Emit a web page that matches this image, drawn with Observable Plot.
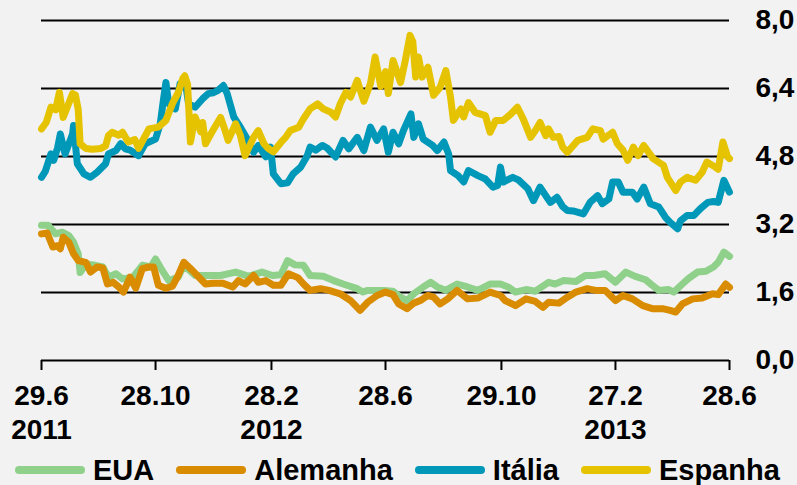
<!DOCTYPE html>
<html>
<head>
<meta charset="utf-8">
<script src="https://cdn.jsdelivr.net/npm/d3@7"></script>
<script src="https://cdn.jsdelivr.net/npm/@observablehq/plot@0.6"></script>
<style>
  html, body { margin: 0; padding: 0; background: #f2f2f2; }
  #chart { width: 797px; height: 485px; position: relative; overflow: hidden; font-family: "Liberation Sans", Arial, sans-serif; }
  #legend { position: absolute; left: 15px; top: 457px; height: 26px; display: flex; align-items: center; font-weight: bold; font-size: 29px; line-height: 26px; color: #000; }
  .item { display: flex; align-items: center; margin-right: 22px; }
  .sw { width: 70px; height: 8px; border-radius: 4px; margin-right: 8px; }
</style>
</head>
<body>
<div id="chart"></div>
<script>
// Series names and colours
const seriesNames = ["EUA", "Alemanha", "Itália", "Espanha"];
const seriesColors = ["#8fd18a", "#d98c00", "#0098b8", "#e6c300"];

// Day offsets from 29.6.2011 and 10-year yields (%)
const usDays = [0,7,15,22,29,34,39,41,47,57,65,71,79,86,97,107,116,121,128,135,145,151,163,177,190,206,220,234,245,254,261,269,278,285,299,310,320,335,341,346,363,373,381,388,395,405,413,420,429,441,452,463,476,487,495,503,514,524,538,545,554,567,577,586,598,609,620,630,641,648,655,665,671,680,686,696,705,713,718,724,730];
const usVals = [3.18,3.18,2.98,3.02,2.94,2.78,2.51,2.07,2.27,2.24,2.2,1.96,2.04,1.92,1.96,2.24,2.2,2.39,2.12,1.88,1.96,2.24,2.0,2.0,2.0,2.08,1.98,2.08,2.0,2.02,2.35,2.25,2.24,2.0,1.98,1.88,1.8,1.69,1.61,1.65,1.65,1.63,1.49,1.41,1.57,1.73,1.84,1.73,1.65,1.8,1.73,1.65,1.8,1.8,1.73,1.61,1.67,1.63,1.84,1.8,1.88,1.86,2.0,2.0,2.04,1.84,2.08,1.98,1.9,1.77,1.65,1.67,1.61,1.8,1.92,2.08,2.1,2.2,2.31,2.55,2.45];

const deDays = [0,6,12,17,20,23,29,34,39,47,52,59,65,70,76,82,87,94,100,107,114,119,124,132,139,145,151,160,167,174,182,192,203,209,216,225,230,238,246,254,262,272,278,285,296,305,317,328,338,346,356,365,373,379,388,395,402,410,416,423,431,441,452,463,476,487,492,503,514,524,532,538,549,558,567,579,588,598,609,617,627,638,648,659,667,673,680,691,701,712,718,726,730];
const deVals = [2.98,3.0,2.67,2.7,2.63,2.9,2.78,2.51,2.35,2.31,2.08,2.2,2.18,1.8,1.84,1.73,1.61,1.96,1.7,2.16,2.2,2.2,1.77,1.7,1.75,2.0,2.31,2.12,1.96,1.8,1.82,1.82,1.73,1.88,1.8,2.0,1.84,1.88,1.77,1.77,2.04,1.95,1.8,1.65,1.69,1.65,1.57,1.41,1.18,1.37,1.53,1.61,1.55,1.33,1.22,1.35,1.41,1.53,1.49,1.33,1.45,1.65,1.45,1.47,1.61,1.53,1.41,1.29,1.45,1.39,1.25,1.37,1.35,1.49,1.61,1.69,1.65,1.65,1.41,1.53,1.45,1.29,1.22,1.22,1.18,1.14,1.33,1.45,1.47,1.57,1.55,1.8,1.72];

const itDays = [0,4,10,13,17,20,25,33,34,38,45,52,59,68,71,79,84,89,94,100,103,110,121,126,129,132,135,142,147,153,156,163,171,177,182,187,193,197,204,211,219,225,230,238,243,246,254,261,267,275,282,285,291,298,303,312,320,326,335,342,349,356,363,368,373,379,384,392,395,400,405,415,420,427,432,434,442,448,453,463,471,479,484,487,490,500,506,516,522,529,535,540,547,553,558,564,575,582,590,595,602,606,612,617,627,632,639,646,655,662,667,675,678,685,692,699,707,713,718,724,730];
const itVals = [4.31,4.45,4.86,4.71,5.0,5.33,4.86,5.33,5.53,4.63,4.39,4.31,4.43,4.63,4.86,4.94,5.1,4.98,4.95,4.86,4.82,5.1,5.21,5.57,6.07,6.54,6.04,5.92,6.51,6.5,6.04,5.96,6.16,6.28,6.3,6.35,6.47,6.28,5.73,5.49,5.18,4.9,5.06,4.79,5.02,4.39,4.16,4.18,4.39,4.55,4.82,5.02,4.95,5.06,5.0,4.79,5.18,4.98,5.25,4.94,5.49,5.18,5.45,4.9,5.37,5.1,5.41,5.8,5.25,5.57,5.21,5.06,4.94,5.14,4.86,4.47,4.35,4.2,4.47,4.35,4.27,4.08,4.12,4.55,4.2,4.31,4.25,4.04,3.76,4.08,3.88,3.72,3.84,3.62,3.53,3.52,3.45,3.72,3.88,3.69,3.8,4.2,4.2,3.96,3.96,3.8,4.08,3.69,3.61,3.37,3.25,3.1,3.29,3.41,3.41,3.57,3.72,3.74,3.72,4.24,3.96];

const esDays = [0,5,10,15,19,23,28,33,36,39,41,47,54,63,68,71,75,82,86,92,99,103,108,114,124,132,139,145,150,152,155,158,163,169,171,174,181,190,195,198,206,211,216,225,230,236,240,246,254,259,264,273,278,285,293,299,307,312,317,323,328,335,342,349,354,360,365,368,373,381,386,391,394,397,400,404,410,416,423,429,434,437,445,448,453,460,471,476,482,490,498,505,511,519,524,529,535,538,543,549,553,558,569,579,585,593,596,606,611,617,622,628,633,639,649,660,664,673,678,685,694,701,706,715,718,723,728,730];
const esVals = [5.45,5.6,5.96,5.9,6.31,5.72,6.0,6.28,6.25,5.9,5.1,4.99,4.97,4.99,5.05,5.29,5.37,5.3,5.37,5.14,5.2,4.99,5.2,5.45,5.49,5.65,6.05,6.3,6.64,6.7,6.5,5.14,5.73,5.38,5.6,5.1,5.38,5.72,5.4,5.18,5.57,5.3,4.82,5.25,5.41,5.1,5.0,4.91,5.13,5.25,5.41,5.49,5.69,5.92,6.04,5.92,5.84,5.73,6.04,6.31,6.2,6.59,6.1,6.51,7.14,6.45,6.8,6.28,7.06,6.54,7.06,7.65,7.5,6.67,7.14,6.67,6.9,6.24,6.43,6.82,6.2,5.65,5.92,5.73,6.07,5.84,5.76,5.37,5.65,5.65,5.8,5.96,5.69,5.25,5.41,5.6,5.29,5.45,5.25,5.27,5.02,4.9,5.18,5.25,5.45,5.41,5.21,5.37,5.1,4.95,4.71,5.02,4.82,5.06,4.75,4.59,4.31,4.0,4.2,4.31,4.24,4.43,4.67,4.55,4.5,5.14,4.79,4.75];

// Axis ticks
const xTickDates = ["2011-06-29","2011-10-28","2012-02-28","2012-06-28","2012-10-29","2013-02-27","2013-06-28"];
const xTickLabels = ["29.6\n2011","28.10","28.2\n2012","28.6","29.10","27.2\n2013","28.6"];
const yTicks = [0, 1.6, 3.2, 4.8, 6.4, 8.0];

const START = Date.UTC(2011, 5, 29);
const toDate = d => new Date(START + d * 864e5);

const daysList = [usDays, deDays, itDays, esDays];
const valsList = [usVals, deVals, itVals, esVals];
const rows = [];
seriesNames.forEach((name, s) => {
  daysList[s].forEach((d, i) => rows.push({serie: name, date: toDate(d), value: valsList[s][i]}));
});

const tickDates = xTickDates.map(s => new Date(s + "T00:00:00Z"));
const labelFor = d => xTickLabels[tickDates.findIndex(t => +t === +d)];

const chart = Plot.plot({
  width: 797,
  height: 450,
  marginLeft: 41,
  marginRight: 68,
  marginTop: 20,
  marginBottom: 90,
  style: {background: "#f2f2f2", fontFamily: "'Liberation Sans', Arial, sans-serif", fontSize: "28px", fontWeight: "bold", color: "#000", overflow: "visible"},
  x: {type: "utc", domain: [toDate(0), toDate(730)]},
  y: {domain: [0, 8]},
  color: {domain: seriesNames, range: seriesColors},
  marks: [
    Plot.ruleY(yTicks.filter(v => v > 0), {stroke: "#000", strokeWidth: 2}),
    Plot.ruleY([0], {stroke: "#000", strokeWidth: 2}),
    Plot.axisX({ticks: tickDates, tickFormat: labelFor, tickSize: 10, tickPadding: 11, stroke: "#000", strokeWidth: 2, strokeOpacity: 1, lineHeight: 1.2, label: null, fill: "#000"}),
    Plot.axisY({anchor: "right", ticks: yTicks, tickFormat: v => v.toFixed(1).replace(".", ","), tickSize: 0, tickPadding: 26, label: null, fill: "#000"}),
    Plot.line(rows, {x: "date", y: "value", stroke: "serie", z: "serie", strokeWidth: 7, strokeLinejoin: "round", strokeLinecap: "round"})
  ]
});

const root = document.getElementById("chart");
root.appendChild(chart);

const legend = document.createElement("div");
legend.id = "legend";
seriesNames.forEach((name, i) => {
  const item = document.createElement("div");
  item.className = "item";
  const sw = document.createElement("div");
  sw.className = "sw";
  sw.style.background = seriesColors[i];
  const label = document.createElement("span");
  label.textContent = name;
  item.appendChild(sw);
  item.appendChild(label);
  legend.appendChild(item);
});
root.appendChild(legend);
</script>
</body>
</html>
